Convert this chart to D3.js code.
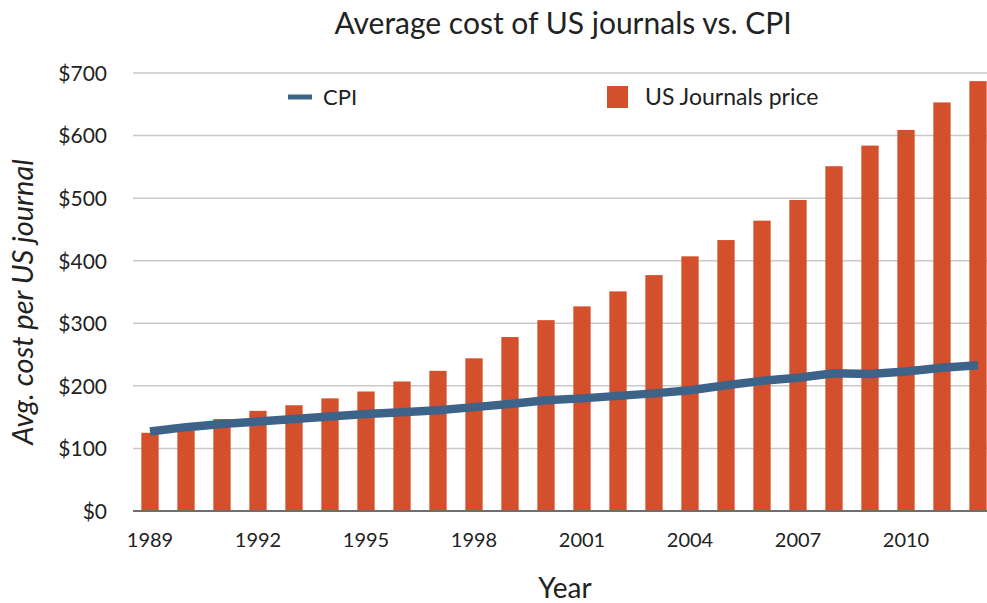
<!DOCTYPE html>
<html>
<head>
<meta charset="utf-8">
<script src="https://cdn.jsdelivr.net/npm/d3@7"></script>
<style>
  html, body { margin: 0; padding: 0; background: #fff; }
  svg { display: block; }
  text { font-family: Lato, "Open Sans", sans-serif; fill: #222; }
</style>
</head>
<body>
<svg id="chart" width="987" height="603"></svg>
<script>
const years = d3.range(1989, 2013).map(String);
const journalPrice = [125, 133, 147, 160, 169, 180, 191, 207, 224, 244, 278, 305,
                      327, 351, 377, 407, 433, 464, 497, 551, 584, 609, 653, 687];
const cpi = [127, 134, 139, 143, 147, 151, 155, 158, 161, 166, 171, 177,
             180, 184, 188, 193, 201, 208, 213, 220, 219, 223, 229, 233];
const yTicks = [0, 100, 200, 300, 400, 500, 600, 700];
const xTickLabels = ["1989", "1992", "1995", "1998", "2001", "2004", "2007", "2010"];

const svg = d3.select("#chart");
const plotLeft = 132, plotRight = 996, plotTop = 73, plotBottom = 511;

const x = d3.scaleBand().domain(years).range([plotLeft, plotRight])
  .paddingInner(0.52).paddingOuter(0.26);
const y = d3.scaleLinear().domain([0, 700]).range([plotBottom, plotTop]);

// gridlines
svg.append("g").selectAll("line").data(yTicks.filter(d => d > 0)).join("line")
  .attr("x1", plotLeft + 1).attr("x2", 987)
  .attr("y1", d => y(d)).attr("y2", d => y(d))
  .attr("stroke", "#c9c9c9").attr("stroke-width", 1.5);

// y axis labels
const yAxis = d3.axisLeft(y).tickValues(yTicks).tickSize(0).tickPadding(0)
  .tickFormat(d => "$" + d);
const gy = svg.append("g").attr("transform", `translate(107,0)`).call(yAxis);
gy.select(".domain").remove();
gy.selectAll("text").attr("font-size", 21).attr("dy", "0.35em")
  .style("font-family", "Lato, sans-serif").attr("fill", "#222");

// bars
svg.append("g").selectAll("rect").data(journalPrice).join("rect")
  .attr("x", (d, i) => x(years[i]))
  .attr("width", x.bandwidth())
  .attr("y", d => y(d))
  .attr("height", d => y(0) - y(d))
  .attr("fill", "#D44F2B");

// baseline
svg.append("line").attr("x1", plotLeft + 1).attr("x2", 987)
  .attr("y1", y(0)).attr("y2", y(0))
  .attr("stroke", "#6e6e6e").attr("stroke-width", 2);

// x axis labels
const xAxis = d3.axisBottom(x).tickValues(xTickLabels).tickSize(0).tickPadding(0);
const gx = svg.append("g").attr("transform", `translate(0,${plotBottom + 22})`).call(xAxis);
gx.select(".domain").remove();
gx.selectAll("text").attr("font-size", 20).attr("dy", "0.71em")
  .style("font-family", "Lato, sans-serif").attr("fill", "#222");

// CPI line
const line = d3.line()
  .x((d, i) => x(years[i]) + x.bandwidth() / 2)
  .y(d => y(d));
svg.append("path").datum(cpi).attr("d", line)
  .attr("fill", "none").attr("stroke", "#3E6389").attr("stroke-width", 8.5)
  .attr("stroke-linejoin", "round");

// title
svg.append("text").attr("x", 563).attr("y", 34).attr("text-anchor", "middle")
  .attr("font-size", 30).text("Average cost of US journals vs. CPI");

// axis titles
svg.append("text").attr("x", 565).attr("y", 598).attr("text-anchor", "middle")
  .attr("font-size", 28).text("Year");
svg.append("text").attr("transform", "translate(33,302) rotate(-90)")
  .attr("text-anchor", "middle").attr("font-size", 29).attr("font-style", "italic")
  .text("Avg. cost per US journal");

// legend
svg.append("line").attr("x1", 288).attr("x2", 312).attr("y1", 97).attr("y2", 97)
  .attr("stroke", "#3E6389").attr("stroke-width", 5);
svg.append("text").attr("x", 323).attr("y", 97).attr("dy", "0.35em")
  .attr("font-size", 22).text("CPI");
svg.append("rect").attr("x", 607).attr("y", 86).attr("width", 21).attr("height", 22)
  .attr("fill", "#D44F2B");
svg.append("text").attr("x", 645).attr("y", 97).attr("dy", "0.35em")
  .attr("font-size", 23).text("US Journals price");
</script>
</body>
</html>
